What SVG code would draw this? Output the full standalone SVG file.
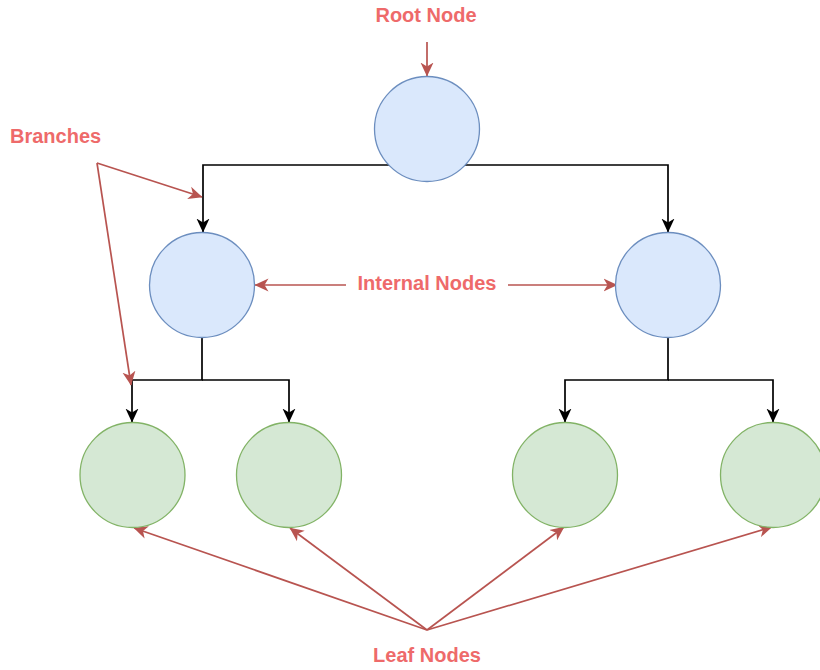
<svg xmlns="http://www.w3.org/2000/svg" width="820" height="670" viewBox="0 0 820 670">
  <style>
    .edge { fill: none; stroke: #000000; stroke-width: 1.7; }
    .note { fill: none; stroke: #b85450; stroke-width: 1.7; }
    .inner { fill: #dae8fc; stroke: #6c8ebf; stroke-width: 1.3; }
    .leaf { fill: #d5e8d4; stroke: #82b366; stroke-width: 1.3; }
    .label { font-family: "Liberation Sans", Arial, sans-serif; font-size: 20px; font-weight: bold; fill: #ee6a6a; }
  </style>
  <defs>
    <marker id="arrow-black" viewBox="0 0 14 14" refX="13.5" refY="7" markerWidth="14" markerHeight="14" markerUnits="userSpaceOnUse" orient="auto">
      <path d="M0,0.5 L14,7 L0,13.5 L4,7 z" fill="#000000"/>
    </marker>
    <marker id="arrow-red" viewBox="0 0 14 14" refX="13.5" refY="7" markerWidth="14" markerHeight="14" markerUnits="userSpaceOnUse" orient="auto">
      <path d="M0,0.5 L14,7 L0,13.5 L4,7 z" fill="#b85450"/>
    </marker>
  </defs>

  <!-- tree edges -->
  <g id="connectors">
    <path class="edge" d="M389,165 H203 V232" marker-end="url(#arrow-black)"/>
    <path class="edge" d="M465,165 H668 V232" marker-end="url(#arrow-black)"/>
    <path class="edge" d="M202,337 V380 H132 V422" marker-end="url(#arrow-black)"/>
    <path class="edge" d="M202,380 H289 V422" marker-end="url(#arrow-black)"/>
    <path class="edge" d="M668,337 V380 H565 V422" marker-end="url(#arrow-black)"/>
    <path class="edge" d="M668,380 H773 V422" marker-end="url(#arrow-black)"/>
  </g>

  <!-- annotation pointers -->
  <g id="annotations">
    <path class="note" d="M427,42 V76" marker-end="url(#arrow-red)"/>
    <path class="note" d="M97,163 L202,197" marker-end="url(#arrow-red)"/>
    <path class="note" d="M97,163 L131,385" marker-end="url(#arrow-red)"/>
    <path class="note" d="M346,285 H255" marker-end="url(#arrow-red)"/>
    <path class="note" d="M508,285 H617" marker-end="url(#arrow-red)"/>
    <path class="note" d="M427,630 L134,528" marker-end="url(#arrow-red)"/>
    <path class="note" d="M427,630 L290,528" marker-end="url(#arrow-red)"/>
    <path class="note" d="M427,630 L564,527" marker-end="url(#arrow-red)"/>
    <path class="note" d="M427,630 L772,527" marker-end="url(#arrow-red)"/>
  </g>

  <!-- nodes -->
  <g id="root"><circle class="inner" cx="427" cy="129" r="52.5"/></g>
  <g id="internal-left"><circle class="inner" cx="202" cy="285" r="52.5"/></g>
  <g id="internal-right"><circle class="inner" cx="668" cy="285" r="52.5"/></g>
  <g id="leaf-1"><circle class="leaf" cx="132.5" cy="475" r="52.5"/></g>
  <g id="leaf-2"><circle class="leaf" cx="289" cy="475" r="52.5"/></g>
  <g id="leaf-3"><circle class="leaf" cx="565" cy="475" r="52.5"/></g>
  <g id="leaf-4"><circle class="leaf" cx="773" cy="475" r="52.5"/></g>

  <!-- labels -->
  <g id="label-root"><text class="label" x="426" y="22" text-anchor="middle">Root Node</text></g>
  <g id="label-branches"><text class="label" x="10" y="143">Branches</text></g>
  <g id="label-internal"><text class="label" x="427" y="290" text-anchor="middle">Internal Nodes</text></g>
  <g id="label-leaf"><text class="label" x="427" y="662" text-anchor="middle">Leaf Nodes</text></g>
</svg>
